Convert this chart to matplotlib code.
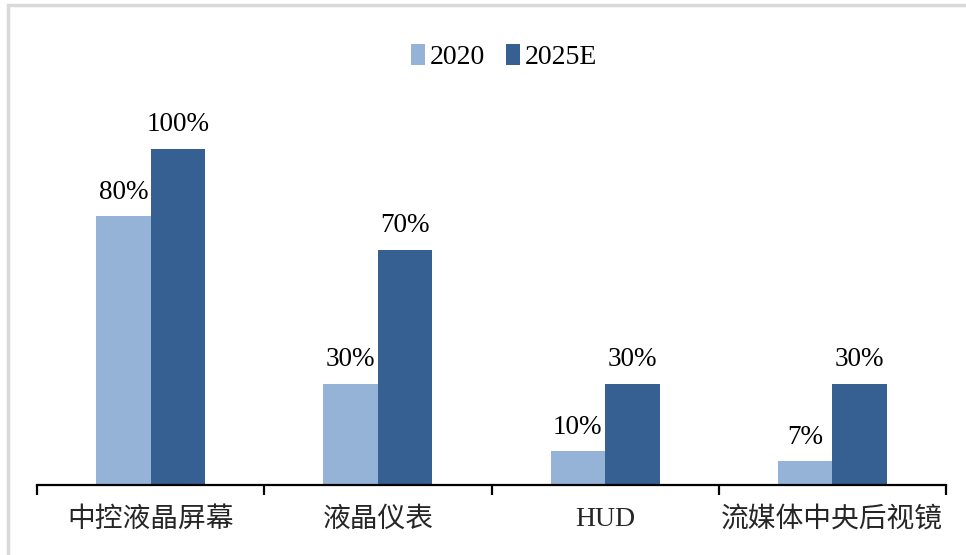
import matplotlib
matplotlib.use("Agg")
import matplotlib.pyplot as plt
from matplotlib.patches import Rectangle
import numpy as np

categories = ["中控液晶屏幕", "液晶仪表", "HUD", "流媒体中央后视镜"]
series_names = ["2020", "2025E"]
values_2020 = [0.80, 0.30, 0.10, 0.07]
values_2025 = [1.00, 0.70, 0.30, 0.30]
labels_2020 = ["80%", "30%", "10%", "7%"]
labels_2025 = ["100%", "70%", "30%", "30%"]

c_light = "#95B3D7"
c_dark = "#366092"
fam = ["Liberation Serif", "Noto Sans CJK SC"]
plt.rcParams["font.family"] = fam

W, H = 966, 555
fig = plt.figure(figsize=(W / 100, H / 100), dpi=100)
fig.patches.append(Rectangle((7.5 / W, -0.1), 1.2, 1 - 5 / H + 0.1, transform=fig.transFigure,
                             fill=False, edgecolor="#d9d9d9", linewidth=2.5))

ax = fig.add_axes([37 / W, 1 - 485 / H, (946 - 37) / W, (485 - 82) / H])
x = np.arange(len(categories))
bw = 0.24
b1 = ax.bar(x - bw / 2, values_2020, bw, color=c_light, label=series_names[0])
b2 = ax.bar(x + bw / 2, values_2025, bw, color=c_dark, label=series_names[1])

for bars, labs in ((b1, labels_2020), (b2, labels_2025)):
    for r, t in zip(bars, labs):
        ax.annotate(t, (r.get_x() + r.get_width() / 2, r.get_height()),
                    xytext=(0, 8.5), textcoords="offset points",
                    ha="center", va="bottom", fontsize=19.5, family=fam)

ax.set_xlim(-0.5, len(categories) - 0.5)
ax.set_ylim(0, 1.2)
for s in ("top", "right", "left"):
    ax.spines[s].set_visible(False)
ax.spines["bottom"].set_linewidth(1.6)
ax.set_yticks([])
ax.set_xticks(x)
ax.set_xticklabels(categories, fontsize=20, color="#262626")
ax.tick_params(axis="x", which="major", length=0, pad=16)
ax.set_xticks(np.arange(-0.5, len(categories)), minor=True)
ax.tick_params(axis="x", which="minor", length=7, width=1.6, direction="out")

ax.legend(loc="center", bbox_to_anchor=((504 - 37) / (946 - 37),
                                        (1 - 57 / H - (1 - 485 / H)) / ((485 - 82) / H)),
          ncol=2, frameon=False, fontsize=20, handlelength=0.5, handleheight=0.8,
          handletextpad=0.18, columnspacing=0.75)

fig.savefig("out.png", dpi=100)
